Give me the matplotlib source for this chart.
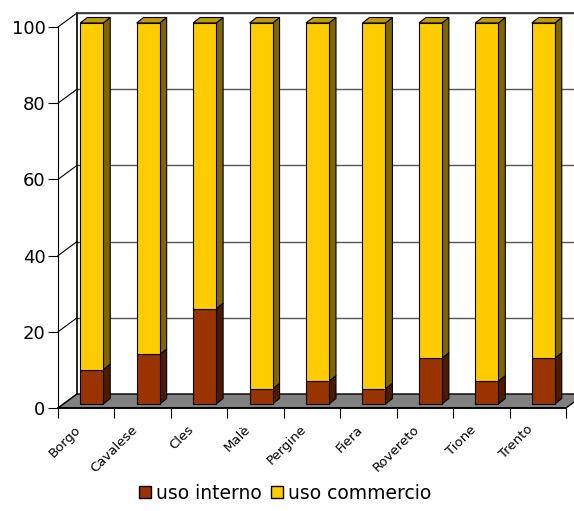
"""
Uso interno / uso commercio per comprensorio, 3D-style stacked 100% bars.
"""
import matplotlib
matplotlib.use("Agg")
import matplotlib.pyplot as plt
from matplotlib.patches import Polygon, Patch
from matplotlib.transforms import ScaledTranslation
import numpy as np

# data
categories = ["Borgo", "Cavalese", "Cles", "Malè", "Pergine", "Fiera",
              "Rovereto", "Tione", "Trento"]
uso_interno = [9, 13, 25, 4, 6, 4, 12, 6, 12]
uso_commercio = [100 - v for v in uso_interno]
y_ticks = [0, 20, 40, 60, 80, 100]

# colours (front, side, top)
col_int = ("#993300", "#4d1a00", "#7a2900")
col_com = ("#ffcc00", "#806600", "#c09a00")

fig = plt.figure(figsize=(5.74, 5.11), dpi=100)
ax = fig.add_axes([58/574, 103/511, 508/574, 381/511])
n = len(categories)
ax.set_xlim(0, n)
ax.set_ylim(0, 100)

# pixel -> data conversion for the fake depth
ppx = ax.bbox.width / n
ppy = ax.bbox.height / 100.0
def px(dx, dy):
    return dx / ppx, dy / ppy

wall_dx, wall_dy = px(19, 14)
bar_ox, bar_oy = px(5.5, 4)
dep_dx, dep_dy = px(7, 5.5)
bar_w = 23 / ppx

# side wall (left) and back wall
ax.add_patch(Polygon([(0, 0), (wall_dx, wall_dy), (wall_dx, 100 + wall_dy), (0, 100)],
                     closed=True, facecolor="white", edgecolor="none", clip_on=False, zorder=0))
for t in y_ticks[1:]:
    ax.plot([wall_dx, n + wall_dx], [t + wall_dy, t + wall_dy], color="#555555", lw=1,
            clip_on=False, zorder=1)
for t in y_ticks:
    ax.plot([0, wall_dx], [t, t + wall_dy], color="black", lw=0.8, clip_on=False, zorder=1)
ax.plot([wall_dx, wall_dx], [wall_dy, 100 + wall_dy], color="black", lw=1.2, clip_on=False, zorder=1)
ax.plot([wall_dx, n + wall_dx], [100 + wall_dy, 100 + wall_dy], color="#333333", lw=1.2,
        clip_on=False, zorder=1)

# floor
ax.add_patch(Polygon([(0, 0), (n, 0), (n + wall_dx, wall_dy), (wall_dx, wall_dy)],
                     closed=True, facecolor="#808080", edgecolor="black", lw=1,
                     clip_on=False, zorder=2))

# bars
def bar3d(x0, y0, y1, cols, top=False):
    x1 = x0 + bar_w
    ax.add_patch(Polygon([(x1, y0), (x1 + dep_dx, y0 + dep_dy), (x1 + dep_dx, y1 + dep_dy), (x1, y1)],
                         closed=True, facecolor=cols[1], edgecolor="black", lw=0.8,
                         clip_on=False, zorder=3))
    if top:
        ax.add_patch(Polygon([(x0, y1), (x1, y1), (x1 + dep_dx, y1 + dep_dy), (x0 + dep_dx, y1 + dep_dy)],
                             closed=True, facecolor=cols[2], edgecolor="black", lw=0.8,
                             clip_on=False, zorder=3))

x = np.arange(n)
left = x + 0.5 - bar_w / 2 + bar_ox
for i in range(n):
    bar3d(left[i], bar_oy, bar_oy + uso_interno[i], col_int)
    bar3d(left[i], bar_oy + uso_interno[i], bar_oy + 100, col_com, top=True)
ax.bar(left, uso_interno, width=bar_w, bottom=bar_oy, align="edge",
       color=col_int[0], edgecolor="black", lw=0.8, zorder=4, clip_on=False)
ax.bar(left, uso_commercio, width=bar_w, bottom=[bar_oy + v for v in uso_interno], align="edge",
       color=col_com[0], edgecolor="black", lw=0.8, zorder=4, clip_on=False)

# axes styling
for s in ["top", "right"]:
    ax.spines[s].set_visible(False)
ax.spines["left"].set_zorder(5)
ax.spines["bottom"].set_visible(False)
ax.plot([0, n], [0, 0], color="black", lw=1.2, clip_on=False, zorder=5)
ax.set_yticks(y_ticks)
ax.tick_params(axis="y", direction="out", length=7, labelsize=13, pad=2)
ax.set_xticks(np.arange(n + 1))
ax.set_xticklabels([])
ax.tick_params(axis="x", which="major", direction="out", length=7, color="black")
ax.set_xticks(x + 0.5, minor=True)
ax.set_xticklabels(categories, minor=True, rotation=45, ha="right", va="center",
                   rotation_mode="anchor", fontsize=9.5)
ax.tick_params(axis="x", which="minor", length=0, pad=14)
shift = ScaledTranslation(-7/100, 0, fig.dpi_scale_trans)
for lab in ax.get_xticklabels(minor=True):
    lab.set_transform(lab.get_transform() + shift)
ax.set_facecolor("none")

handles = [Patch(facecolor=col_int[0], edgecolor="black", label="uso interno"),
           Patch(facecolor=col_com[0], edgecolor="black", label="uso commercio")]
fig.legend(handles=handles, loc="lower center", bbox_to_anchor=(0.497, -0.017), ncol=2,
           frameon=False, fontsize=13.5, handlelength=0.65, handleheight=0.65,
           handletextpad=0.25, columnspacing=0.5)

fig.savefig("out.png", dpi=100)
